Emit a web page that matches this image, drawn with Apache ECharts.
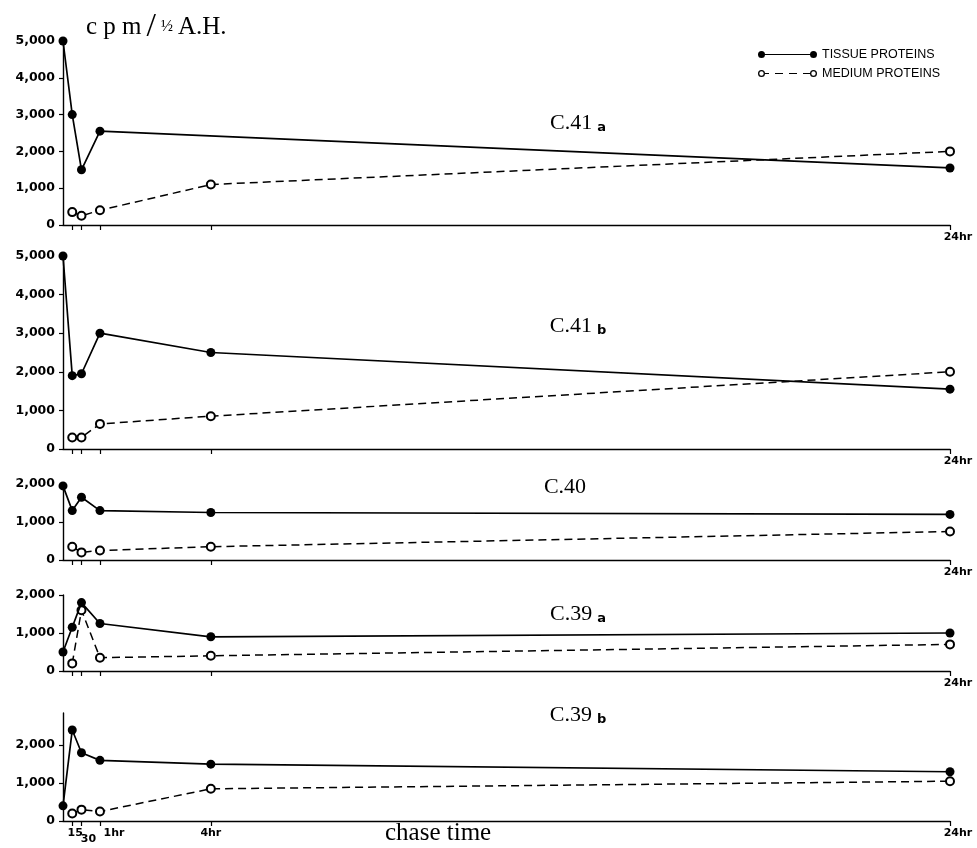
<!DOCTYPE html>
<html>
<head>
<meta charset="utf-8">
<script src="https://cdn.jsdelivr.net/npm/echarts@6/dist/echarts.min.js"></script>
<style>
  html, body { margin: 0; padding: 0; background: #fff; }
  #chart { width: 977px; height: 848px; }
</style>
</head>
<body>
<div id="chart"></div>
<script>
// chase time in hours: 0, 15 min, 30 min, 1 hr, 4 hr, 24 hr
var times = [0, 0.25, 0.5, 1, 4, 24];

var c41aTissue = [5000, 3000, 1500, 2550, null, 1550];
var c41aMedium = [null, 350, 250, 400, 1100, 2000];
var c41bTissue = [5000, 1900, 1950, 3000, 2500, 1550];
var c41bMedium = [null, 300, 300, 650, 850, 2000];
var c40Tissue = [1950, 1300, 1650, 1300, 1250, 1200];
var c40Medium = [null, 350, 200, 250, 350, 750];
var c39aTissue = [500, 1150, 1800, 1250, 900, 1000];
var c39aMedium = [null, 200, 1600, 350, 400, 700];
var c39bTissue = [400, 2400, 1800, 1600, 1500, 1300];
var c39bMedium = [null, 200, 300, 250, 850, 1050];

var panelNames = ['C.41', 'C.41', 'C.40', 'C.39', 'C.39'];
var panelSuffix = ['a', 'b', '', 'a', 'b'];
var tickTimes = [0.25, 0.5, 1, 4, 24];
var bottomLabelTimes = [0.25, 1, 4, 24];
var yMax = [5000, 5000, 2000, 2000, 2850];
var yTicks = [
  [0, 1000, 2000, 3000, 4000, 5000],
  [0, 1000, 2000, 3000, 4000, 5000],
  [0, 1000, 2000],
  [0, 1000, 2000],
  [0, 1000, 2000]
];

var tissueSets = [c41aTissue, c41bTissue, c40Tissue, c39aTissue, c39bTissue];
var mediumSets = [c41aMedium, c41bMedium, c40Medium, c39aMedium, c39bMedium];

// panel placement (px)
var grids = [
  { top: 41, height: 184 },
  { top: 256, height: 193 },
  { top: 484, height: 76 },
  { top: 595, height: 76 },
  { top: 713, height: 108 }
];
var labelPos = [[578, 112], [578, 315], [565, 476], [578, 603], [578, 704]];

function pairs(vals) {
  var out = [];
  for (var i = 0; i < times.length; i++) {
    if (vals[i] != null) out.push([times[i], vals[i]]);
  }
  return out;
}

var TISSUE = 'TISSUE PROTEINS';
var MEDIUM = 'MEDIUM PROTEINS';
var ink = '#000';
var labelFont = 'DejaVu Sans';
var serif = 'Liberation Serif';

var tickLabel = {
  hideOverlap: false,
  showMinLabel: true,
  showMaxLabel: true,
  margin: 7,
  color: ink,
  fontFamily: labelFont,
  fontWeight: 'bold',
  fontSize: 11,
  formatter: function (v) {
    if (v === 0.25) return '{a|15}';
    if (v === 0.5) return '{b|30}';
    if (v === 1) return '{c|1hr}';
    if (v === 4) return '{d|4hr}';
    return '{e|24hr}';
  },
  rich: {
    a: { padding: [0, 0, 0, 6] },
    b: { padding: [0, 0, 0, 14] },
    c: { padding: [0, 0, 0, 28] },
    d: {},
    e: { padding: [0, 0, 0, 16] }
  }
};

var xAxes = [], yAxes = [], series = [], titles = [];

grids.forEach(function (g, i) {
  var last = i === grids.length - 1;
  xAxes.push({
    type: 'value',
    gridIndex: i,
    position: 'bottom',
    min: 0,
    max: 24,
    axisLine: { lineStyle: { color: ink, width: 1.4 } },
    splitLine: { show: false },
    axisTick: { customValues: tickTimes, length: 5, lineStyle: { color: ink, width: 1.2 } },
    axisLabel: Object.assign({}, tickLabel, { customValues: last ? bottomLabelTimes : [24] })
  });
  yAxes.push({
    type: 'value',
    gridIndex: i,
    min: 0,
    max: yMax[i],
    interval: 1000,
    axisLine: { show: true, lineStyle: { color: ink, width: 1.4 } },
    splitLine: { show: false },
    axisTick: { show: true, customValues: yTicks[i], length: 4, lineStyle: { color: ink, width: 1.2 } },
    axisLabel: {
      customValues: yTicks[i],
      showMinLabel: true,
      showMaxLabel: true,
      margin: 8,
      color: ink,
      fontFamily: labelFont,
      fontWeight: 'bold',
      fontSize: 12.5,
      formatter: function (v) { return v.toLocaleString('en-US'); }
    }
  });
  series.push({
    name: MEDIUM,
    type: 'line',
    xAxisIndex: i,
    yAxisIndex: i,
    data: pairs(mediumSets[i]),
    symbol: 'emptyCircle',
    symbolSize: 8,
    itemStyle: { color: ink, borderWidth: 1.3 },
    lineStyle: { color: ink, width: 1.5, type: [8, 5] },
    z: 2
  });
  series.push({
    name: TISSUE,
    type: 'line',
    xAxisIndex: i,
    yAxisIndex: i,
    data: pairs(tissueSets[i]),
    symbol: 'circle',
    symbolSize: 9,
    itemStyle: { color: ink, borderWidth: 0 },
    lineStyle: { color: ink, width: 1.7 },
    z: 3
  });
  titles.push({
    text: panelSuffix[i] ? '{n|' + panelNames[i] + '} {s|' + panelSuffix[i] + '}' : '{n|' + panelNames[i] + '}',
    left: labelPos[i][0],
    top: labelPos[i][1],
    textAlign: 'center',
    padding: 0,
    textStyle: {
      fontWeight: 'normal',
      rich: {
        n: { fontFamily: serif, fontSize: 22, fontWeight: 'normal', color: ink },
        s: { fontFamily: labelFont, fontWeight: 'bold', fontSize: 13, color: ink, verticalAlign: 'bottom' }
      }
    }
  });
});

// second bottom axis on the last panel, only to carry the lowered "30" label
xAxes.push({
  type: 'value',
  gridIndex: grids.length - 1,
  position: 'bottom',
  offset: 0,
  min: 0,
  max: 24,
  axisLine: { show: false },
  axisTick: { show: false },
  splitLine: { show: false },
  axisLabel: Object.assign({}, tickLabel, { customValues: [0.5], margin: 13 })
});

titles.push({
  text: '{a|c p m} {s|/} {f|½} {a|A.H.}',
  left: 86,
  top: 10,
  padding: 0,
  textStyle: {
    fontWeight: 'normal',
    rich: {
      a: { fontFamily: serif, fontSize: 25, fontWeight: 'normal', color: ink },
      s: { fontFamily: serif, fontSize: 34, fontWeight: 'normal', color: ink },
      f: { fontFamily: serif, fontSize: 16, fontWeight: 'normal', color: ink }
    }
  }
});
titles.push({
  text: 'chase time',
  left: 385,
  top: 821,
  padding: 0,
  textStyle: { fontFamily: serif, fontSize: 25, fontWeight: 'normal', color: ink }
});

var tissueIcon = 'path://M0,3.5 A3.5,3.5 0 1,1 7,3.5 A3.5,3.5 0 1,1 0,3.5 Z M6,3 L53,3 L53,4.1 L6,4.1 Z M52,3.5 A3.5,3.5 0 1,1 59,3.5 A3.5,3.5 0 1,1 52,3.5 Z';
var mediumIcon = 'path://M0,3.5 A3.5,3.5 0 1,1 7,3.5 A3.5,3.5 0 1,1 0,3.5 Z M1.3,3.5 A2.2,2.2 0 1,0 5.7,3.5 A2.2,2.2 0 1,0 1.3,3.5 Z' +
  ' M7,3 L11,3 L11,4.1 L7,4.1 Z M17,3 L25,3 L25,4.1 L17,4.1 Z M31,3 L39,3 L39,4.1 L31,4.1 Z M45,3 L52,3 L52,4.1 L45,4.1 Z' +
  ' M52,3.5 A3.5,3.5 0 1,1 59,3.5 A3.5,3.5 0 1,1 52,3.5 Z M53.3,3.5 A2.2,2.2 0 1,0 57.7,3.5 A2.2,2.2 0 1,0 53.3,3.5 Z';

var chart = echarts.init(document.getElementById('chart'), null, { renderer: 'canvas' });
chart.setOption({
  animation: false,
  backgroundColor: '#fff',
  title: titles,
  legend: {
    orient: 'vertical',
    left: 758,
    top: 48,
    padding: 0,
    itemGap: 6,
    itemWidth: 59,
    itemHeight: 7,
    textStyle: { fontFamily: 'Liberation Sans', fontSize: 12.5, color: ink },
    data: [
      { name: TISSUE, icon: tissueIcon, itemStyle: { color: ink, borderWidth: 0 } },
      { name: MEDIUM, icon: mediumIcon, itemStyle: { color: ink, borderWidth: 0 } }
    ]
  },
  grid: grids.map(function (g) {
    return { left: 63, right: 27, top: g.top, height: g.height, outerBoundsMode: 'none' };
  }),
  xAxis: xAxes,
  yAxis: yAxes,
  series: series
});
window.addEventListener('resize', function () { chart.resize(); });
</script>
</body>
</html>
